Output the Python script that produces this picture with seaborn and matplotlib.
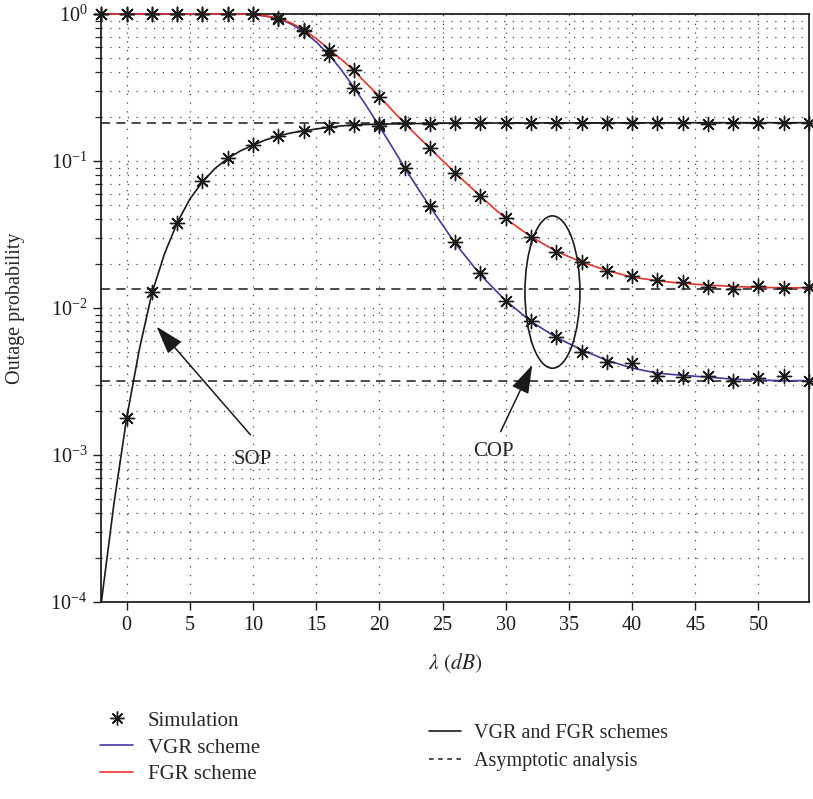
import numpy as np
import pandas as pd
import matplotlib
matplotlib.use("Agg")
import matplotlib.pyplot as plt
import seaborn as sns
from matplotlib.lines import Line2D
from matplotlib.patches import Ellipse
from matplotlib.ticker import LogLocator, NullFormatter, LogFormatterSciNotation

# ---------------- data ----------------
# simulation points (lambda in dB)
x_sim = [-2, 0, 2, 4, 6, 8, 10, 12, 14, 16, 18, 20, 22, 24, 26, 28, 30, 32, 34, 36,
         38, 40, 42, 44, 46, 48, 50, 52, 54]
vgr_sim = [1.0, 1.0, 1.0, 1.0, 1.0, 1.0, 1.0, 0.93, 0.76, 0.526, 0.312, 0.173, 0.090,
           0.0497, 0.028, 0.0172, 0.0112, 0.0081, 0.00638, 0.00505, 0.0043, 0.0042,
           0.00347, 0.00337, 0.00347, 0.0032, 0.00332, 0.00344, 0.00316]
fgr_sim = [1.0, 1.0, 1.0, 1.0, 1.0, 1.0, 1.0, 0.94, 0.78, 0.569, 0.416, 0.274, 0.182,
           0.122, 0.083, 0.0578, 0.0407, 0.0306, 0.0240, 0.0206, 0.0179, 0.0165,
           0.0155, 0.0151, 0.0138, 0.0135, 0.0140, 0.0136, 0.0138]
x_sop_sim = [0, 2, 4, 6, 8, 10, 12, 14, 16, 18, 20, 22, 24, 26, 28, 30, 32, 34, 36,
             38, 40, 42, 44, 46, 48, 50, 52, 54]
sop_sim = [1.78e-3, 0.0128, 0.038, 0.073, 0.104, 0.128, 0.148, 0.161, 0.171, 0.176,
           0.178, 0.180, 0.179, 0.180, 0.181, 0.180, 0.181, 0.180, 0.181, 0.180,
           0.180, 0.181, 0.180, 0.178, 0.180, 0.180, 0.180, 0.180]

# analytical curves
x_sop_ana = [-2, -1, 0, 1, 2, 3, 4, 5, 6, 7, 8, 9, 10, 11, 12, 13, 14, 15, 16, 17, 18,
             20, 22, 24, 26, 30, 34, 40, 46, 54]
sop_ana = [1.0e-4, 4.7e-4, 1.78e-3, 5.2e-3, 0.0126, 0.0234, 0.038, 0.055, 0.072, 0.089,
           0.104, 0.117, 0.128, 0.139, 0.148, 0.155, 0.160, 0.165, 0.169, 0.173, 0.176,
           0.178, 0.179, 0.180, 0.181, 0.181, 0.1815, 0.1815, 0.182, 0.182]
x_cop_ana = [-2, 0, 2, 4, 6, 8, 9, 10, 11, 12, 13, 14, 15, 16, 17, 18, 19, 20, 21, 22,
             23, 24, 26, 28, 30, 32, 34, 36, 38, 40, 42, 44, 46, 48, 50, 52, 54]
vgr_ana = [1.0, 1.0, 1.0, 1.0, 1.0, 1.0, 0.998, 0.99, 0.965, 0.93, 0.855, 0.76, 0.645,
           0.53, 0.415, 0.315, 0.235, 0.172, 0.125, 0.090, 0.066, 0.049, 0.0275, 0.0168,
           0.0112, 0.0081, 0.0063, 0.0052, 0.0044, 0.0039, 0.0036, 0.00348, 0.00338,
           0.00328, 0.00323, 0.0032, 0.0032]
fgr_ana = [1.0, 1.0, 1.0, 1.0, 1.0, 1.0, 0.998, 0.99, 0.97, 0.935, 0.87, 0.78, 0.68,
           0.575, 0.49, 0.41, 0.335, 0.275, 0.222, 0.180, 0.148, 0.122, 0.083, 0.0575,
           0.0405, 0.0305, 0.0243, 0.0205, 0.0180, 0.0162, 0.0153, 0.0147, 0.0143,
           0.0140, 0.0138, 0.0137, 0.0137]

# asymptotes
x_asym = [-2, 54]
asym_levels = [0.182, 0.01346, 0.00319]

x_ticks = [0, 5, 10, 15, 20, 25, 30, 35, 40, 45, 50]

# ---------------- style ----------------
sns.set_theme(style="white")
plt.rcParams["font.family"] = ["Liberation Serif", "DejaVu Serif"]
plt.rcParams["mathtext.fontset"] = "stix"

BLUE = "#3f3a9e"
RED = "#e8322b"
GRID = "#444444"
FS = 14.5

fig = plt.figure(figsize=(8.13, 7.99), dpi=100)
ax = fig.add_axes([0.1247, 0.2466, 0.8703, 0.736])
ax.set_yscale("log")

# asymptotic lines
for lev in asym_levels:
    sns.lineplot(x=x_asym, y=[lev, lev], ax=ax, color="k", lw=1.1,
                 linestyle=(0, (6, 4)), estimator=None, sort=False, zorder=3)

# analytical curves
sns.lineplot(x=x_sop_ana, y=sop_ana, ax=ax, color="k", lw=1.2, estimator=None,
             sort=False, zorder=4, clip_on=False)
sns.lineplot(x=x_cop_ana, y=vgr_ana, ax=ax, color=BLUE, lw=1.2, estimator=None,
             sort=False, zorder=4, clip_on=False)
sns.lineplot(x=x_cop_ana, y=fgr_ana, ax=ax, color=RED, lw=1.2, estimator=None,
             sort=False, zorder=4, clip_on=False)

# simulation markers
STAR = (8, 2, 0)
for xs, ys in [(x_sim, vgr_sim), (x_sim, fgr_sim), (x_sop_sim, sop_sim)]:
    sns.scatterplot(x=xs, y=ys, ax=ax, marker=STAR, s=105, color="k",
                    linewidth=1.0, zorder=6, clip_on=False)

ax.set_xlim(-2, 54)
ax.set_ylim(1e-4, 1.0)
ax.set_xticks(x_ticks)
ax.set_xticklabels([str(t) for t in x_ticks])
ax.yaxis.set_major_locator(LogLocator(base=10, numticks=10))
ax.yaxis.set_major_formatter(LogFormatterSciNotation(base=10))
ax.yaxis.set_minor_locator(LogLocator(base=10, subs=np.arange(2, 10), numticks=20))
ax.yaxis.set_minor_formatter(NullFormatter())

ax.grid(True, which="major", axis="x", linestyle=(0, (1, 6)), color=GRID, lw=0.9)
ax.grid(True, which="both", axis="y", linestyle=(0, (1, 6)), color=GRID, lw=0.9)
ax.set_axisbelow(True)

ax.tick_params(axis="both", which="major", direction="out", length=6, width=1.0,
               labelsize=FS, colors="k", pad=4, left=True, bottom=True)
ax.tick_params(axis="y", which="minor", direction="out", length=4, width=0.9, left=True)
for sp in ax.spines.values():
    sp.set_color("#222222")
    sp.set_linewidth(1.3)

ax.set_xlabel(r"$\lambda\ (dB)$", fontsize=FS + 1, labelpad=12)
ax.set_ylabel("Outage probability", fontsize=FS, labelpad=18)

# annotations
ax.text(9.96, 9.3e-4, "SOP", fontsize=FS + 0.5, ha="center", va="center")
ax.annotate("", xy=(2.37, 7.46e-3), xytext=(9.8, 1.37e-3),
            arrowprops=dict(arrowstyle="-|>,head_length=1.1,head_width=0.35",
                            mutation_scale=16, color="k", lw=1.1,
                            shrinkA=0, shrinkB=0))
ax.text(29.0, 1.05e-3, "COP", fontsize=FS + 0.5, ha="center", va="center")
ax.annotate("", xy=(32.1, 4.09e-3), xytext=(29.6, 1.44e-3),
            arrowprops=dict(arrowstyle="-|>,head_length=1.1,head_width=0.35",
                            mutation_scale=16, color="k", lw=1.1,
                            shrinkA=0, shrinkB=0))
ax.add_patch(Ellipse((0.6375, 0.527), 0.0777, 0.259, transform=ax.transAxes,
                     fill=False, edgecolor="k", lw=1.2, zorder=7))

# legends
h_left = [Line2D([], [], color="k", marker=STAR, linestyle="none", markersize=10,
                 markeredgewidth=1.0),
          Line2D([], [], color=BLUE, lw=1.2),
          Line2D([], [], color=RED, lw=1.2)]
leg1 = fig.legend(h_left, ["Simulation", "VGR scheme", "FGR scheme"],
                  loc="upper left", bbox_to_anchor=(0.123, 0.110), frameon=False,
                  fontsize=FS + 0.5, handlelength=1.6, handletextpad=0.7,
                  labelspacing=0.35, borderpad=0, borderaxespad=0)
h_right = [Line2D([], [], color="k", lw=1.2),
           Line2D([], [], color="k", lw=1.1, linestyle=(0, (3, 3)))]
leg2 = fig.legend(h_right, ["VGR and FGR schemes", "Asymptotic analysis"],
                  loc="upper left", bbox_to_anchor=(0.528, 0.094), frameon=False,
                  fontsize=FS, handlelength=1.6, handletextpad=0.6,
                  labelspacing=0.45, borderpad=0, borderaxespad=0)

fig.savefig("out.png", dpi=100)
